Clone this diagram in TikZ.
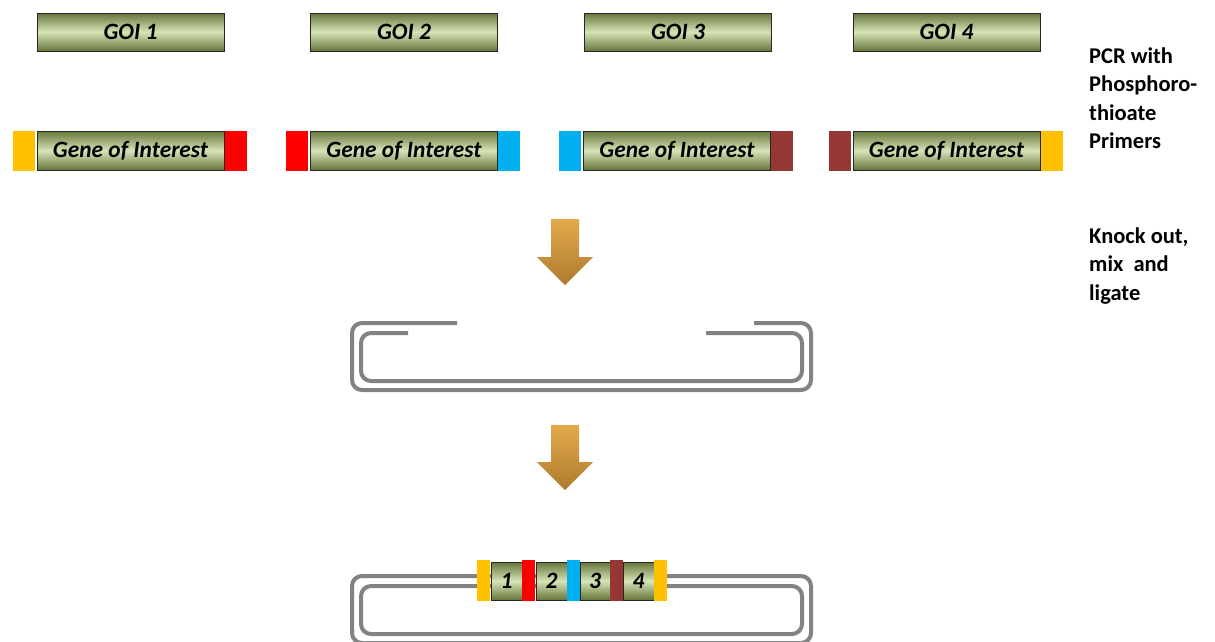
\documentclass[tikz,border=0pt]{standalone}
\usepackage{fontspec}
\setmainfont{Carlito}
\definecolor{tabY}{HTML}{FFC000}
\definecolor{tabR}{HTML}{FF0000}
\definecolor{tabB}{HTML}{00B0F0}
\definecolor{tabN}{HTML}{953735}
\definecolor{gedge}{HTML}{66763A}
\definecolor{gmid}{HTML}{D6E4B8}
\definecolor{atop}{HTML}{E4AA4C}
\definecolor{abot}{HTML}{AD7B2E}
\definecolor{dna}{HTML}{828282}
\tikzset{
  gene/.style={draw=black!85, line width=1pt, rectangle, inner sep=0pt,
    top color=gedge, bottom color=gedge, middle color=gmid,
    font=\fontsize{23.4}{26}\selectfont\bfseries\itshape},
  tab/.style={rectangle, inner sep=0pt, minimum width=22pt, minimum height=40pt},
  stab/.style={rectangle, inner sep=0pt, minimum width=13pt, minimum height=41pt},
  blockarrow/.style={top color=atop, bottom color=abot, draw=none},
  dnaline/.style={draw=dna, line width=4pt, rounded corners=10pt},
  label/.style={anchor=base west, inner sep=0pt,
    font=\fontsize{22.5}{28}\selectfont\bfseries}
}
\begin{document}
\begin{tikzpicture}[x=1pt,y=-1pt]
\useasboundingbox (0,0) rectangle (1215,641);
% top row
\node[gene, minimum width=187pt, minimum height=38pt] (goi1) at (130.5,32) {GOI 1};
\node[gene, minimum width=187pt, minimum height=38pt] (goi2) at (404,32) {GOI 2};
\node[gene, minimum width=187pt, minimum height=38pt] (goi3) at (678,32) {GOI 3};
\node[gene, minimum width=187pt, minimum height=38pt] (goi4) at (946.5,32) {GOI 4};
% second row
\node[gene, minimum width=187pt, minimum height=39pt] (g1) at (130.5,150.5) {Gene of Interest};
\node[gene, minimum width=187pt, minimum height=39pt] (g2) at (404,150.5) {Gene of Interest};
\node[gene, minimum width=187pt, minimum height=39pt] (g3) at (677,150.5) {Gene of Interest};
\node[gene, minimum width=187pt, minimum height=39pt] (g4) at (946.5,150.5) {Gene of Interest};
\node[tab, fill=tabY, anchor=east] (t1l) at ([xshift=-1.5pt]g1.west) {};
\node[tab, fill=tabR, anchor=west] (t1r) at (g1.east) {};
\node[tab, fill=tabR, anchor=east] (t2l) at ([xshift=-1.5pt]g2.west) {};
\node[tab, fill=tabB, anchor=west] (t2r) at (g2.east) {};
\node[tab, fill=tabB, anchor=east] (t3l) at ([xshift=-1.5pt]g3.west) {};
\node[tab, fill=tabN, anchor=west] (t3r) at (g3.east) {};
\node[tab, fill=tabN, anchor=east] (t4l) at ([xshift=-1.5pt]g4.west) {};
\node[tab, fill=tabY, anchor=west] (t4r) at (g4.east) {};
% arrows
\path[blockarrow] (551,219) -- (579,219) -- (579,257) -- (593,257) -- (565,285) -- (537,257) -- (551,257) -- cycle;
\path[blockarrow] (551,425) -- (579,425) -- (579,462) -- (593,462) -- (565,490) -- (537,462) -- (551,462) -- cycle;
% open plasmid
\draw[dnaline] (457,323) -- (352,323) -- (352,390) -- (811,390) -- (811,323) -- (754,323);
\draw[dnaline] (408,333) -- (361,333) -- (361,381) -- (802,381) -- (802,333) -- (706,333);
% final plasmid
\draw[dnaline] (352,576) rectangle (811,643);
\draw[dnaline] (361,586) rectangle (802,634);
% insert
\node[stab, fill=tabY] (s0) at (483.5,580.5) {};
\node[gene, minimum width=31pt, minimum height=38pt] (n1) at (506.5,581) {1};
\node[stab, fill=tabR] (s1) at (528.5,580.5) {};
\node[gene, minimum width=31pt, minimum height=38pt] (n2) at (551.5,581) {2};
\node[stab, fill=tabB] (s2) at (573.5,580.5) {};
\node[gene, minimum width=30pt, minimum height=38pt] (n3) at (595,581) {3};
\node[stab, fill=tabN] (s3) at (616.5,580.5) {};
\node[gene, minimum width=31pt, minimum height=38pt] (n4) at (638.5,581) {4};
\node[stab, fill=tabY] (s4) at (660.5,580.5) {};
% labels
\node[label] (la1) at (1089,63) {PCR with};
\node[label] (la2) at (1089,91.5) {Phosphoro-};
\node[label] (la3) at (1089,120) {thioate};
\node[label] (la4) at (1089,148.5) {Primers};
\node[label] (lb1) at (1089,243) {Knock out,};
\node[label] (lb2) at (1089,271.5) {mix~ and};
\node[label] (lb3) at (1089,300) {ligate};
\end{tikzpicture}
\end{document}
